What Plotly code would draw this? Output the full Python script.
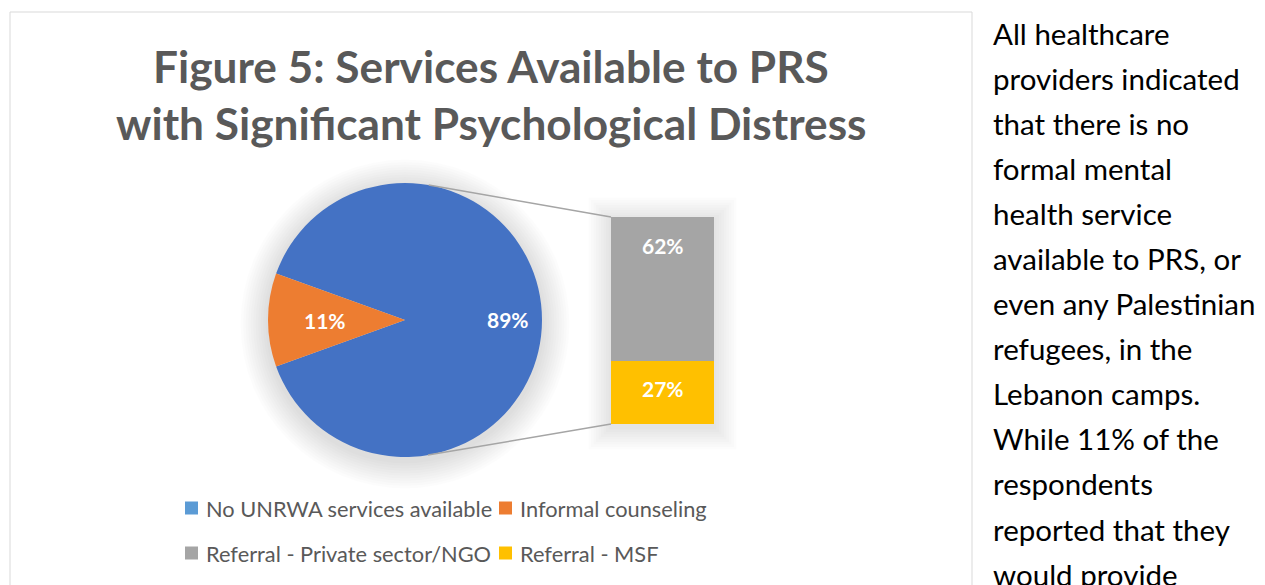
import math
import plotly.graph_objects as go

# ---------------- data ----------------
pie_labels = ["No UNRWA services available", "Informal counseling"]
pie_values = [89, 11]
bar_labels = ["Referral - Private sector/NGO", "Referral - MSF"]
bar_values = [62, 27]
pie_colors = ["#4472C4", "#ED7D31"]
bar_colors = ["#A5A5A5", "#FFC000"]
legend_colors = ["#5B9BD5", "#ED7D31", "#A5A5A5", "#FFC000"]
title_lines = ["Figure 5: Services Available to PRS", "with Significant Psychological Distress"]
side_text = [
    "All healthcare", "providers indicated", "that there is no", "formal mental",
    "health service", "available to PRS, or", "even any Palestinian", "refugees, in the",
    "Lebanon camps.", "While 11% of the", "respondents", "reported that they",
    "would provide",
]

W, H = 1265, 585
def px(x):
    return x / W
def py(y):
    return 1 - y / H

# layout geometry (pixels)
cx, cy, R = 405, 320, 137
bx0, bx1, by_top, by_bot = 611, 714, 217, 424

fig = go.Figure()

total = sum(pie_values)
orange_share = pie_values[1] / total
rotation = 270 + 0.5 * orange_share * 360

fig.add_trace(go.Pie(
    labels=pie_labels, values=pie_values, sort=False, direction="clockwise",
    rotation=rotation, marker=dict(colors=pie_colors, line=dict(width=0)),
    textinfo="none", hoverinfo="skip", showlegend=False,
    domain=dict(x=[px(cx - R), px(cx + R)], y=[py(cy + R), py(cy - R)]),
))

# stacked bar (bottom: MSF, top: private sector)
fig.add_trace(go.Bar(x=[0], y=[bar_values[1]], marker=dict(color=bar_colors[1], line=dict(width=0)),
                     width=1, showlegend=False, hoverinfo="skip"))
fig.add_trace(go.Bar(x=[0], y=[bar_values[0]], marker=dict(color=bar_colors[0], line=dict(width=0)),
                     width=1, showlegend=False, hoverinfo="skip"))

shapes = []
# chart border
shapes.append(dict(type="rect", xref="paper", yref="paper", x0=px(10), x1=px(972), y0=py(600), y1=py(12),
                   line=dict(color="#D9D9D9", width=1), fillcolor="rgba(0,0,0,0)", layer="below"))
# soft shadows
for k in range(1, 12):
    r = R + k * 2.5
    shapes.append(dict(type="circle", xref="paper", yref="paper", x0=px(cx - r), x1=px(cx + r),
                       y0=py(cy + 4 + r), y1=py(cy + 4 - r), line=dict(width=0),
                       fillcolor="rgba(0,0,0,0.011)", layer="below"))
for k in range(1, 10):
    d = k * 2.5
    shapes.append(dict(type="rect", xref="paper", yref="paper", x0=px(bx0 - d), x1=px(bx1 + d),
                       y0=py(by_bot + 3 + d), y1=py(by_top + 3 - d), line=dict(width=0),
                       fillcolor="rgba(0,0,0,0.012)", layer="below"))

# tangent connector lines from bar corners to the pie
def tangent(ex, ey, upper):
    dx, dy = ex - cx, ey - cy
    d = math.hypot(dx, dy)
    base = math.atan2(dy, dx)
    a = math.acos(R / d)
    ang = base - a if upper else base + a
    return cx + R * math.cos(ang), cy + R * math.sin(ang)

for (ex, ey, up) in [(bx0, by_top, True), (bx0, by_bot, False)]:
    tx, ty = tangent(ex, ey, up)
    shapes.append(dict(type="line", xref="paper", yref="paper", x0=px(tx), y0=py(ty), x1=px(ex), y1=py(ey),
                       line=dict(color="#A5A5A5", width=1.5)))

annotations = []
# title
for i, t in enumerate(title_lines):
    annotations.append(dict(text=f"<b>{t}</b>", x=px(491), y=py(65 + 57 * i), xref="paper", yref="paper",
                            showarrow=False, xanchor="center", yanchor="middle",
                            font=dict(family="Lato", size=44.2, color="#595959")))

# pie labels
lab_r = 0.75 * R
acc = 0
for v in pie_values:
    mid_cw = rotation + (acc + v / 2) / total * 360
    acc += v
    a = math.radians(mid_cw)
    lx, ly = cx + lab_r * math.sin(a), cy - lab_r * math.cos(a)
    annotations.append(dict(text=f"<b>{round(v / total * 100)}%</b>", x=px(lx), y=py(ly), xref="paper",
                            yref="paper", showarrow=False, font=dict(family="Lato", size=21, color="white")))

# bar labels
annotations.append(dict(text=f"<b>{bar_values[0]}%</b>", x=0, y=bar_values[1] + bar_values[0] * 0.8,
                        xref="x", yref="y", showarrow=False, font=dict(family="Lato", size=21, color="white")))
annotations.append(dict(text=f"<b>{bar_values[1]}%</b>", x=0, y=bar_values[1] * 0.57,
                        xref="x", yref="y", showarrow=False, font=dict(family="Lato", size=21, color="white")))

# legend (manual)
leg_names = pie_labels + bar_labels
leg_pos = [(185, 508), (499, 508), (185, 553), (499, 553)]
for name, col, (lx, ly) in zip(leg_names, legend_colors, leg_pos):
    shapes.append(dict(type="rect", xref="paper", yref="paper", x0=px(lx), x1=px(lx + 13),
                       y0=py(ly + 6.5), y1=py(ly - 6.5), line=dict(width=0), fillcolor=col))
    annotations.append(dict(text=name, x=px(lx + 19), y=py(ly), xref="paper", yref="paper", showarrow=False,
                            xanchor="left", yanchor="middle", font=dict(family="Lato", size=21.8, color="#595959")))

# side text
for i, t in enumerate(side_text):
    annotations.append(dict(text=t, x=px(991), y=py(33 + 45.1 * i), xref="paper", yref="paper",
                            showarrow=False, xanchor="left", yanchor="middle",
                            font=dict(family="Lato", size=29.5, color="#000000")))

fig.update_layout(
    width=W, height=H, margin=dict(l=0, r=0, t=0, b=0),
    paper_bgcolor="white", plot_bgcolor="rgba(0,0,0,0)",
    barmode="stack", bargap=0,
    xaxis=dict(domain=[px(bx0), px(bx1)], range=[-0.5, 0.5], visible=False, fixedrange=True),
    yaxis=dict(domain=[py(by_bot), py(by_top)], range=[0, sum(bar_values)], visible=False, fixedrange=True),
    shapes=shapes, annotations=annotations,
)

fig.write_html("out.html", config={"displayModeBar": False},
               post_script="document.body.style.margin='0px';")
